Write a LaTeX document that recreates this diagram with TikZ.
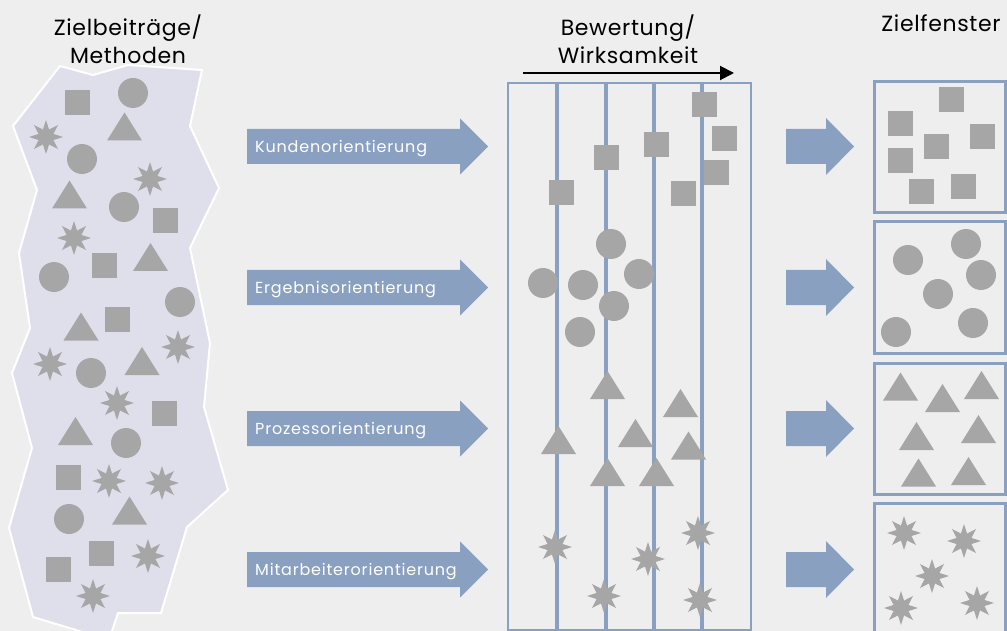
\documentclass[tikz,border=0pt]{standalone}
\usepackage{fontspec}
\setmainfont{Poppins}
\usepackage{tikz}
\usetikzlibrary{arrows.meta, positioning}
\definecolor{bggrey}{RGB}{238,238,238}
\definecolor{lavend}{RGB}{223,222,235}
\definecolor{shapegrey}{RGB}{166,166,166}
\definecolor{steelblue}{RGB}{138,160,193}
\tikzset{
    shp/.style = {fill = shapegrey},
    ttl/.style = {anchor = north, align = center, inner sep = 0pt, font = \fontsize{22}{28}\selectfont\addfontfeatures{LetterSpace=3}},
    lbl/.style = {anchor = base west, inner sep = 0pt, text = white, font = \fontsize{16}{18}\selectfont\addfontfeatures{LetterSpace=5}},
    sq/.pic = {\fill[shp] (-12.5,-12.5) rectangle (12.5,12.5);},
    dot/.pic = {\fill[shp] (0,0) circle (15);},
    tri/.pic = {\fill[shp] (-17.5,14) -- (17.5,14) -- (0,-14) -- cycle;},
    spark/.pic = {\fill[shp] (0:17) \foreach \a in {1,...,15}{ -- (\a*22.5:{mod(\a,2)==0 ? 17 : 8}) } -- cycle;},
    longarrow/.pic = {\fill[steelblue] (0,-17.5) -- (213,-17.5) -- (213,-28) -- (241,0) -- (213,28) -- (213,17.5) -- (0,17.5) -- cycle;},
    shortarrow/.pic = {\fill[steelblue] (0,-17.5) -- (40,-17.5) -- (40,-28.5) -- (68,0) -- (40,28.5) -- (40,17.5) -- (0,17.5) -- cycle;}
}
\begin{document}
\begin{tikzpicture}[x = 1pt, y = -1pt]
    \useasboundingbox (0,0) rectangle (1007,631);
    \fill[bggrey] (0,0) rectangle (1007,631);

    \node[ttl] (methoden) at (128,14.5) {Zielbeiträge/\\Methoden};
    \node[ttl] (bewertung) at (628,14.5) {Bewertung/\\Wirksamkeit};
    \node[ttl] (zielfenster) at (941,14.5) {Zielfenster};

    \filldraw[fill = lavend, draw = white, line width = 2pt] (60,66) -- (93,75) -- (128,65) -- (202,70) -- (190,126) -- (219,188) -- (190,248) -- (210,343) -- (204,407) -- (228,490) -- (187,527) -- (161,613) -- (118,613) -- (109,640) -- (33,617) -- (9,528) -- (32,448) -- (12,373) -- (30,328) -- (19,253) -- (37,190) -- (13,126) -- cycle;

    \pic at (77.5,102.5) {sq};
    \pic at (165.5,221) {sq};
    \pic at (104.5,265.5) {sq};
    \pic at (117.5,319.5) {sq};
    \pic at (164.5,413.5) {sq};
    \pic at (68.5,477.5) {sq};
    \pic at (101.5,553.5) {sq};
    \pic at (58.5,569.5) {sq};
    \pic at (133,93) {dot};
    \pic at (82,159) {dot};
    \pic at (124,207) {dot};
    \pic at (54,277) {dot};
    \pic at (180,302) {dot};
    \pic at (91,373) {dot};
    \pic at (126,443) {dot};
    \pic at (69,519) {dot};
    \pic at (124.5,126.5) {tri};
    \pic at (69.5,194.5) {tri};
    \pic at (150.5,257) {tri};
    \pic at (81,326.5) {tri};
    \pic at (142,361) {tri};
    \pic at (75.5,431) {tri};
    \pic at (129.5,510.5) {tri};
    \pic at (46,137) {spark};
    \pic at (150,179) {spark};
    \pic at (74,238) {spark};
    \pic at (178,347) {spark};
    \pic at (50,364) {spark};
    \pic at (117,403) {spark};
    \pic at (109,481) {spark};
    \pic at (162,483) {spark};
    \pic at (148,556) {spark};
    \pic at (93,596) {spark};

    \pic at (247,146.5) {longarrow};
    \pic at (247,287.5) {longarrow};
    \pic at (247,428.5) {longarrow};
    \pic at (247,569.5) {longarrow};
    \node[lbl] (kunden) at (255,152.5) {Kundenorientierung};
    \node[lbl] (ergebnis) at (255,293.5) {Ergebnisorientierung};
    \node[lbl] (prozess) at (255,434.5) {Prozessorientierung};
    \node[lbl] (mitarbeiter) at (255,575.5) {Mitarbeiterorientierung};

    \coordinate (skalastart) at (523,73);
    \coordinate (skalaende) at (734,73);
    \draw[line width = 2pt, -{Triangle[length=14pt, width=14pt]}] (skalastart) -- (skalaende);

    \draw[steelblue, line width = 2.5pt] (508,83) rectangle (751,630);
    \draw[steelblue, line width = 3.5pt] (557,83) -- (557,630);
    \draw[steelblue, line width = 3.5pt] (606,83) -- (606,630);
    \draw[steelblue, line width = 3.5pt] (654,83) -- (654,630);
    \draw[steelblue, line width = 3.5pt] (702,83) -- (702,630);

    \pic at (704.5,104.5) {sq};
    \pic at (724.5,138.5) {sq};
    \pic at (716.5,172.5) {sq};
    \pic at (683.5,193.5) {sq};
    \pic at (656.5,144.5) {sq};
    \pic at (606.5,157.5) {sq};
    \pic at (561.5,192.5) {sq};
    \pic at (611,244) {dot};
    \pic at (543,283) {dot};
    \pic at (583,285) {dot};
    \pic at (639,274) {dot};
    \pic at (614,306) {dot};
    \pic at (580,332) {dot};
    \pic at (607.5,385) {tri};
    \pic at (680.5,403) {tri};
    \pic at (558.5,440) {tri};
    \pic at (635.5,433) {tri};
    \pic at (688.5,445.5) {tri};
    \pic at (607.5,472) {tri};
    \pic at (656.5,472) {tri};
    \pic at (555,547) {spark};
    \pic at (698,533) {spark};
    \pic at (648,559) {spark};
    \pic at (604,596) {spark};
    \pic at (700,600) {spark};

    \pic at (786,146.5) {shortarrow};
    \pic at (786,287.5) {shortarrow};
    \pic at (786,428.5) {shortarrow};
    \pic at (786,569.5) {shortarrow};

    \draw[steelblue, line width = 3pt] (874,82) rectangle (1005,213);
    \draw[steelblue, line width = 3pt] (874,222) rectangle (1005,353);
    \draw[steelblue, line width = 3pt] (874,363) rectangle (1005,494);
    \draw[steelblue, line width = 3pt] (874,503) rectangle (1005,634);

    \pic at (951.5,99.5) {sq};
    \pic at (900.5,123.5) {sq};
    \pic at (982.5,136.5) {sq};
    \pic at (936.5,146.5) {sq};
    \pic at (900.5,160.5) {sq};
    \pic at (921.5,191.5) {sq};
    \pic at (963.5,186.5) {sq};
    \pic at (908,260) {dot};
    \pic at (966,244) {dot};
    \pic at (981,275) {dot};
    \pic at (938,294) {dot};
    \pic at (973,323) {dot};
    \pic at (896,332) {dot};
    \pic at (900.5,386.5) {tri};
    \pic at (942.5,398) {tri};
    \pic at (981.5,385) {tri};
    \pic at (916.5,436) {tri};
    \pic at (978.5,429) {tri};
    \pic at (918.5,472.5) {tri};
    \pic at (968.5,471) {tri};
    \pic at (904,533) {spark};
    \pic at (964,541) {spark};
    \pic at (932,576) {spark};
    \pic at (901,608) {spark};
    \pic at (977,603) {spark};
\end{tikzpicture}
\end{document}
